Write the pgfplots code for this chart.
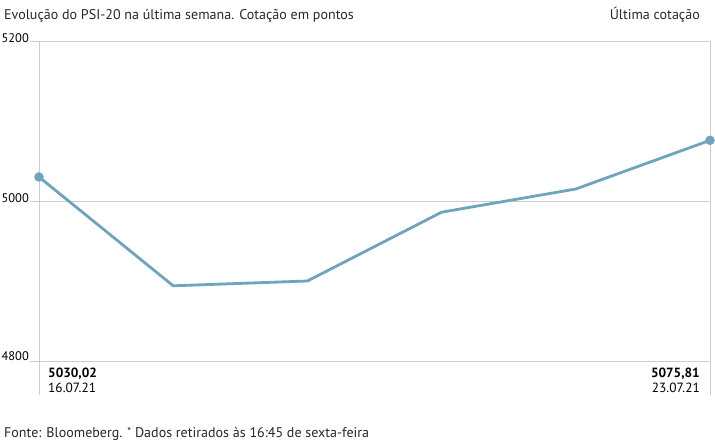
\documentclass[border=0pt]{standalone}
\usepackage{fontspec}
\setmainfont{PT Sans}
\usepackage{pgfplots}
\pgfplotsset{compat=1.18}
\definecolor{lineblue}{RGB}{111,164,188}
\definecolor{gridgray}{RGB}{205,205,205}
\definecolor{txt}{RGB}{40,40,40}
\begin{document}
\begin{tikzpicture}[x=1bp,y=1bp,font=\fontsize{14.1}{16}\selectfont\color{txt}]
\path[use as bounding box] (-39,-84) rectangle (676,361);
% frame and grid (pixel layout: 1bp = 1px, axis origin at lower left of plot area)
\draw[gridgray, line width=0.9bp] (-9,0) -- (671,0);
\draw[gridgray, line width=0.9bp] (-9,160) -- (671,160);
\draw[gridgray, line width=0.9bp] (-9,320) -- (671,320);
\draw[gridgray, line width=0.9bp] (0,320) -- (0,-34);
\draw[gridgray, line width=0.9bp] (671,320) -- (671,-34);
\node[anchor=base east, inner sep=0pt, font=\fontsize{12.5}{14}\selectfont] at (-10,318) {5200};
\node[anchor=base east, inner sep=0pt, font=\fontsize{12.5}{14}\selectfont] at (-10,158) {5000};
\node[anchor=base east, inner sep=0pt, font=\fontsize{12.5}{14}\selectfont] at (-10,0) {4800};
\begin{axis}[
  at={(0,0)}, anchor=origin,
  scale only axis, width=671bp, height=320bp,
  xmin=0, xmax=5, ymin=4800, ymax=5200,
  axis lines=none, clip=false,
  xtick=\empty, ytick=\empty,
]
\addplot[lineblue, line width=2.8bp, line join=round, mark=none] coordinates {
  (0,5030.02) (1,4894) (2,4900) (3,4986) (4,5015) (5,5075.81)
};
\addplot[only marks, mark=*, mark size=4.5bp, mark options={fill=lineblue, draw=lineblue}] coordinates {
  (0,5030.02) (5,5075.81)
};
\end{axis}
\node[anchor=base west, inner sep=0pt, font=\fontsize{13.4}{15}\selectfont\bfseries] at (9,-17) {5030,02};
\node[anchor=base west, inner sep=0pt, font=\fontsize{13.4}{15}\selectfont] at (9,-32) {16.07.21};
\node[anchor=base east, inner sep=0pt, font=\fontsize{13.4}{15}\selectfont\bfseries] at (661,-17) {5075,81};
\node[anchor=base east, inner sep=0pt, font=\fontsize{13.4}{15}\selectfont] at (661,-32) {23.07.21};
\node[anchor=base west, inner sep=0pt] at (-35,341) {Evolução do PSI-20 na última semana. Cotação em pontos};
\node[anchor=base east, inner sep=0pt] at (661,341) {Última cotação};
\node[anchor=base west, inner sep=0pt] at (-35,-77) {Fonte: Bloomeberg. \raisebox{0.35ex}{\fontsize{11}{12}\selectfont*} Dados retirados às 16:45 de sexta-feira};
\end{tikzpicture}
\end{document}
